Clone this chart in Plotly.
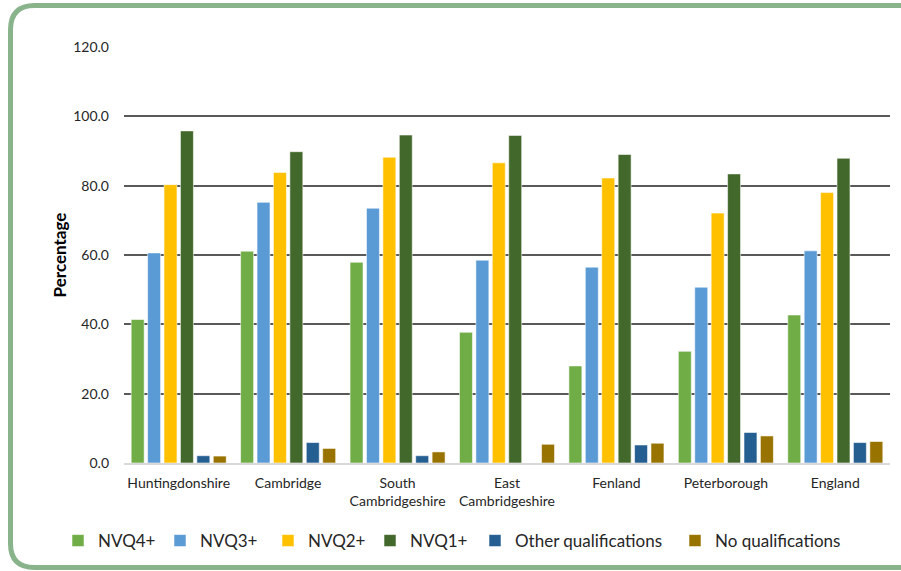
import plotly.graph_objects as go

# Qualification levels by area (% of working-age population)
areas = ["Huntingdonshire", "Cambridge", "South<br>Cambridgeshire", "East<br>Cambridgeshire",
         "Fenland", "Peterborough", "England"]
nvq4 = [41.4, 61.1, 57.9, 37.7, 28.0, 32.2, 42.7]
nvq3 = [60.6, 75.2, 73.5, 58.5, 56.5, 50.7, 61.2]
nvq2 = [80.3, 83.8, 88.2, 86.6, 82.2, 72.1, 78.0]
nvq1 = [95.8, 89.8, 94.6, 94.5, 89.0, 83.4, 87.9]
other_quals = [2.1, 5.9, 2.1, None, 5.2, 8.8, 5.9]
no_quals = [2.0, 4.2, 3.2, 5.4, 5.7, 7.8, 6.2]

series = [
    ("NVQ4+", nvq4, "#70AD47"),
    ("NVQ3+", nvq3, "#5B9BD5"),
    ("NVQ2+", nvq2, "#FFC000"),
    ("NVQ1+", nvq1, "#43682B"),
    ("Other qualifications", other_quals, "#255E91"),
    ("No qualifications", no_quals, "#997300"),
]
# left edge (px) of each legend entry
legend_px = [58, 160, 268, 370, 475, 675]

W, H = 901, 571
ML, MR, MT, MB = 124, 11, 47, 108
PW, PH = W - ML - MR, H - MT - MB
FONT = "Lato, 'Open Sans', sans-serif"


def px(x, y):
    # pixel position -> paper coordinates
    return (x - ML) / PW, (H - MB - y) / PH


fig = go.Figure()
legend_layout = {}
for i, (name, vals, col) in enumerate(series):
    key = "legend" if i == 0 else f"legend{i + 1}"
    fig.add_trace(go.Bar(
        name=name, x=areas, y=vals, legend=key,
        marker=dict(color=col, line=dict(color="rgba(255,255,255,0.55)", width=1)),
    ))
    lx, ly = px(legend_px[i], 541)
    legend_layout[key] = dict(
        orientation="h", x=lx, xanchor="left", y=ly, yanchor="middle",
        font=dict(size=17, color="#262626"), itemwidth=30,
        bgcolor="rgba(0,0,0,0)", borderwidth=0,
    )

# rounded green frame (open on the right side)
r = 24
x0, y0, y1, x1 = 10.5, 5.5, 567.5, 915


def P(x, y):
    a, b = px(x, y)
    return f"{a:.5f},{b:.5f}"


path = (f"M {P(x1, y0)} L {P(x0 + r, y0)} Q {P(x0, y0)} {P(x0, y0 + r)} "
        f"L {P(x0, y1 - r)} Q {P(x0, y1)} {P(x0 + r, y1)} L {P(x1, y1)}")
fig.add_shape(type="path", path=path, xref="paper", yref="paper",
              line=dict(color="#88B38B", width=5), layer="above")

fig.update_layout(
    width=W, height=H,
    margin=dict(l=ML, r=MR, t=MT, b=MB),
    paper_bgcolor="white", plot_bgcolor="white",
    barmode="group", bargap=0.10, bargroupgap=0.21,
    font=dict(family=FONT, size=14, color="#262626"),
    showlegend=True,
    xaxis=dict(showgrid=False, showline=True, linecolor="#D9D9D9", linewidth=1.5,
               ticks="", tickfont=dict(size=14, color="#262626"), ticklabelstandoff=6,
               fixedrange=True),
    yaxis=dict(range=[0, 120], dtick=20, tickformat=".1f", showgrid=True,
               gridcolor="#595959", gridwidth=1.5, zeroline=False, showline=False,
               tickfont=dict(size=14, color="#262626"), ticklabelstandoff=14,
               title=dict(text="<b>Percentage</b>", font=dict(size=17, color="#000000"),
                          standoff=2),
               fixedrange=True),
    **legend_layout,
)

fig.write_html("out.html")
